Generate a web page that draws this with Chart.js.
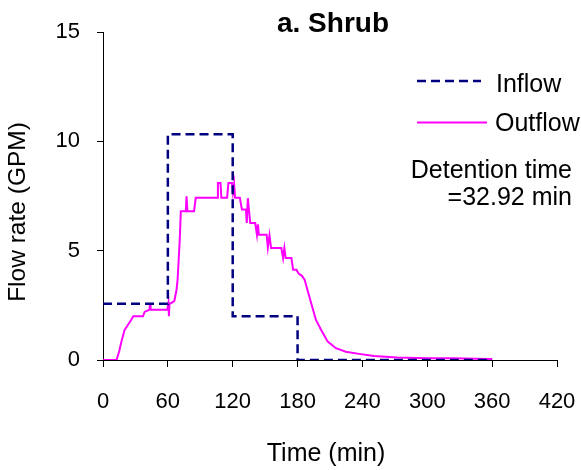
<!DOCTYPE html>
<html>
<head>
<meta charset="utf-8">
<script src="https://cdn.jsdelivr.net/npm/chart.js@4"></script>
<style>
  body { margin: 0; background: #fff; }
  #wrap { width: 581px; height: 470px; }
</style>
</head>
<body>
<div id="wrap"><canvas id="myChart"></canvas></div>
<script>
// inflow hydrograph (min, GPM)
var inflowTime = [0, 60, 60, 120, 120, 180, 180, 360];
var inflowRate = [2.57, 2.57, 10.32, 10.32, 2.0, 2.0, 0, 0];

// outflow hydrograph (min, GPM)
var outflowTime = [0, 12.5, 15, 17, 20, 23, 26, 28, 37, 38.5, 43, 43.5, 44, 59.5, 60.5, 61, 61.5, 63, 66, 68, 69,
  71, 72, 76.6, 77.3, 78.1, 79, 79.6, 84.2, 85.8, 105.6, 106.3, 108.7, 109.5, 114.8, 116, 119.3, 120.2, 121.3, 122.2,
  126.6, 128.5, 132.2, 133, 134, 135, 136.2, 140.8, 142.4, 143.3, 144.2, 145.3, 151.4, 152.5, 154, 155.5, 159, 165,
  166.6, 167.8, 169, 174.3, 175.9, 179, 181, 184, 186.5, 192.6, 197, 201.7, 207.9, 215.5, 224.6, 236.9, 250.6, 272,
  299.5, 324, 356, 360];
var outflowRate = [0, 0, 0.4, 0.84, 1.38, 1.6, 1.83, 2.0, 2.0, 2.2, 2.3, 2.6, 2.3, 2.3, 2.6, 2.0, 2.6, 2.6, 2.7, 3.2, 3.67,
  5.5, 6.8, 6.8, 7.49, 6.8, 6.8, 6.8, 6.8, 7.42, 7.42, 8.1, 8.1, 7.42, 7.42, 8.1, 8.1, 7.65, 8.05, 7.42,
  7.42, 6.88, 6.88, 6.27, 7.4, 6.88, 6.27, 6.27, 5.73, 6.2, 5.73, 5.73, 5.73, 5.15, 5.7, 5.12, 5.12, 5.12,
  4.66, 5.12, 4.66, 4.66, 4.13, 4.13, 3.95, 3.85, 3.67, 2.6, 1.83, 1.38, 0.84, 0.54, 0.38, 0.28, 0.18, 0.12,
  0.08, 0.08, 0.05, 0.05];

var xTicks = [0, 60, 120, 180, 240, 300, 360, 420];
var yTicks = [0, 5, 10, 15];

var fam = '"Liberation Sans", Arial, sans-serif';

function toPoints(xs, ys) {
  return xs.map(function (x, i) { return { x: x, y: ys[i] }; });
}

// titles, legend and note drawn straight on the canvas
var textPlugin = {
  id: 'texts',
  afterDraw: function (chart) {
    var ctx = chart.ctx;
    ctx.save();
    ctx.fillStyle = '#000';
    ctx.textBaseline = 'alphabetic';

    ctx.font = 'bold 28px ' + fam;
    ctx.textAlign = 'center';
    ctx.fillText('a. Shrub', 333, 32);

    ctx.font = '25px ' + fam;
    ctx.fillText('Time (min)', 326, 461);

    ctx.save();
    ctx.font = '24.5px ' + fam;
    ctx.translate(25, 212);
    ctx.rotate(-Math.PI / 2);
    ctx.fillText('Flow rate (GPM)', 0, 0);
    ctx.restore();

    // legend
    ctx.strokeStyle = '#000080';
    ctx.lineWidth = 2.5;
    ctx.setLineDash([9, 5]);
    ctx.beginPath();
    ctx.moveTo(417, 81);
    ctx.lineTo(481, 81);
    ctx.stroke();
    ctx.setLineDash([]);
    ctx.strokeStyle = '#ff00ff';
    ctx.lineWidth = 2;
    ctx.beginPath();
    ctx.moveTo(417, 122.5);
    ctx.lineTo(487, 122.5);
    ctx.stroke();

    ctx.font = '25px ' + fam;
    ctx.textAlign = 'left';
    ctx.fillText('Inflow', 496, 91.5);
    ctx.fillText('Outflow', 495, 130.5);

    ctx.textAlign = 'right';
    ctx.fillText('Detention time', 572, 178);
    ctx.fillText('=32.92 min', 572, 205);
    ctx.restore();
  }
};

const ctx = document.getElementById('myChart');
const myChart = new Chart(ctx, {
  type: 'line',
  data: {
    datasets: [{
      label: 'Inflow',
      data: toPoints(inflowTime, inflowRate),
      borderColor: '#000080',
      borderWidth: 2.5,
      borderDash: [9, 5],
      pointRadius: 0,
      fill: false,
      tension: 0
    }, {
      label: 'Outflow',
      data: toPoints(outflowTime, outflowRate),
      borderColor: '#ff00ff',
      borderWidth: 2,
      pointRadius: 0,
      fill: false,
      tension: 0
    }]
  },
  options: {
    responsive: true,
    maintainAspectRatio: false,
    animation: false,
    layout: { padding: { left: 0, right: 24, top: 32, bottom: 0 } },
    plugins: {
      legend: { display: false },
      title: { display: false },
      tooltip: { enabled: false }
    },
    scales: {
      x: {
        type: 'linear',
        min: 0,
        max: 420,
        afterBuildTicks: function (scale) {
          scale.ticks = xTicks.map(function (v) { return { value: v }; });
        },
        afterFit: function (scale) {
          scale.height = 110;
          scale.paddingLeft = 0;
          scale.paddingRight = 0;
        },
        grid: { display: true, drawOnChartArea: false, drawTicks: true, tickLength: 7, color: '#000' },
        border: { display: true, color: '#000', width: 1 },
        ticks: { color: '#000', padding: 22, maxRotation: 0, font: { family: fam, size: 22 } }
      },
      y: {
        type: 'linear',
        min: 0,
        max: 15,
        afterBuildTicks: function (scale) {
          scale.ticks = yTicks.map(function (v) { return { value: v }; });
        },
        afterFit: function (scale) {
          scale.width = 103;
          scale.paddingTop = 0;
          scale.paddingBottom = 0;
        },
        grid: { display: true, drawOnChartArea: false, drawTicks: true, tickLength: 6, color: '#000' },
        border: { display: true, color: '#000', width: 1 },
        ticks: { color: '#000', padding: 17, font: { family: fam, size: 22 } }
      }
    }
  },
  plugins: [textPlugin]
});
</script>
</body>
</html>
